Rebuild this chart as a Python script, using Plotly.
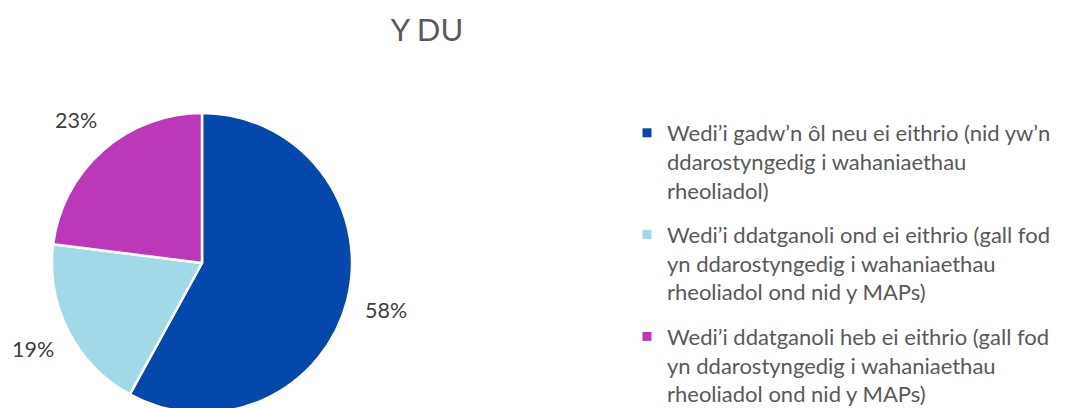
import math
import plotly.graph_objects as go

title_text = "Y DU"
categories = [
    "Wedi’i gadw’n ôl neu ei eithrio (nid yw’n<br>ddarostyngedig i wahaniaethau<br>rheoliadol)",
    "Wedi’i ddatganoli ond ei eithrio (gall fod<br>yn ddarostyngedig i wahaniaethau<br>rheoliadol ond nid y MAPs)",
    "Wedi’i ddatganoli heb ei eithrio (gall fod<br>yn ddarostyngedig i wahaniaethau<br>rheoliadol ond nid y MAPs)",
]
values = [58, 19, 23]
colors = ["#0448AC", "#A2D9E8", "#BB38B8"]

W, H = 1066, 408
FONT = "Lato"
OFF = 8  # page body margin offset (figure is drawn 8px in from the window edge)


def fx(x):
    return (x - OFF) / W


def fy(y):
    return 1 - (y - OFF) / H


cx, cy, r = 202, 263, 150  # screen pixels
fig = go.Figure()
fig.add_trace(go.Pie(
    labels=categories,
    values=values,
    sort=False,
    direction="clockwise",
    rotation=0,
    marker=dict(colors=colors, line=dict(color="white", width=2.5)),
    textinfo="none",
    showlegend=False,
    domain=dict(x=[0, fx(cx) * 2], y=[fy(cy + r), fy(cy - r)]),
    hoverinfo="label+percent",
))

# percentage labels placed outside each slice, at the slice's mid-angle
total = sum(values)
cum = 0
for v in values:
    mid = (cum + v / 2) / total * 2 * math.pi
    cum += v
    dist = 190
    px = cx + dist * math.sin(mid)
    py = cy - dist * math.cos(mid)
    fig.add_annotation(
        x=fx(px), y=fy(py), xref="paper", yref="paper",
        text=f"{round(v / total * 100)}%", showarrow=False,
        xanchor="center", yanchor="middle",
        font=dict(family=FONT, size=21.5, color="#404040"),
    )

# legend entries
for i, (lab, c) in enumerate(zip(categories, colors)):
    fig.add_trace(go.Scatter(
        x=[None], y=[None], mode="markers", name=lab, legendgroup=f"g{i}",
        marker=dict(symbol="square", color=c, size=9),
    ))

fig.update_layout(
    width=W, height=H,
    margin=dict(l=0, r=0, t=0, b=0),
    paper_bgcolor="white",
    plot_bgcolor="white",
    xaxis=dict(visible=False),
    yaxis=dict(visible=False),
    title=dict(text=title_text, x=fx(427), xanchor="center", y=fy(30), yanchor="middle",
               font=dict(family=FONT, size=31, color="#595959")),
    legend=dict(x=fx(627), xanchor="left", y=fy(112), yanchor="top",
                font=dict(family=FONT, size=22, color="#595959"),
                itemwidth=30, tracegroupgap=13, valign="top"),
    showlegend=True,
)

fig.write_html("out.html")
